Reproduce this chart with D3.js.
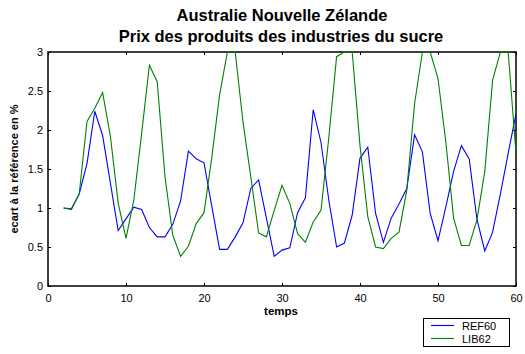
<!DOCTYPE html>
<html>
<head>
<meta charset="utf-8">
<script src="https://cdn.jsdelivr.net/npm/d3@7"></script>
<style>
  html, body { margin: 0; padding: 0; background: #fff; }
  svg { display: block; font-family: "Liberation Sans", Arial, sans-serif; }
</style>
</head>
<body>
<svg id="chart" width="525" height="354"></svg>
<script>
const titleLines = ["Australie Nouvelle Zélande", "Prix des produits des industries du sucre"];
const xLabel = "temps";
const yLabel = "ecart à la référence en %";
const seriesNames = ["REF60", "LIB62"];
const seriesColors = ["#0000ff", "#008000"];
const xTicks = [0, 10, 20, 30, 40, 50, 60];
const yTicks = [0, 0.5, 1, 1.5, 2, 2.5, 3];
const yTickLabels = ["0", "0.5", "1", "1.5", "2", "2.5", "3"];
const temps = [2,3,4,5,6,7,8,9,10,11,12,13,14,15,16,17,18,19,20,21,22,23,24,25,26,27,28,29,30,31,32,33,34,35,36,37,38,39,40,41,42,43,44,45,46,47,48,49,50,51,52,53,54,55,56,57,58,59,60];
const ref60 = [1.00,0.99,1.18,1.57,2.24,1.93,1.32,0.71,0.86,1.01,0.98,0.75,0.63,0.63,0.79,1.09,1.73,1.63,1.58,1.02,0.47,0.47,0.63,0.81,1.25,1.36,0.87,0.38,0.46,0.49,0.94,1.13,2.26,1.84,1.10,0.50,0.55,0.91,1.64,1.78,0.93,0.56,0.87,1.05,1.25,1.94,1.72,0.93,0.58,1.01,1.47,1.80,1.63,0.85,0.45,0.69,1.18,1.70,2.21];
const lib62 = [1.00,0.98,1.18,2.11,2.28,2.48,1.92,1.06,0.61,1.10,1.95,2.83,2.62,1.40,0.65,0.38,0.51,0.80,0.94,1.65,2.45,3.00,3.00,2.10,1.40,0.68,0.63,0.97,1.29,1.06,0.67,0.56,0.82,0.97,1.90,2.94,3.00,3.00,1.80,0.89,0.50,0.48,0.61,0.69,1.23,2.34,3.00,3.00,2.66,1.85,0.87,0.52,0.52,0.85,1.47,2.64,3.00,3.00,1.70];

const svg = d3.select("#chart");
const L = 48, R = 516, T = 52, B = 286;
const x = d3.scaleLinear().domain([0, 60]).range([L, R]);
const y = d3.scaleLinear().domain([0, 3]).range([B, T]);

// Title
svg.append("text").attr("x", 282).attr("y", 20.5).attr("text-anchor", "middle")
  .attr("font-size", 16.5).attr("font-weight", "bold").text(titleLines[0]);
svg.append("text").attr("x", 281).attr("y", 42).attr("text-anchor", "middle")
  .attr("font-size", 16.5).attr("font-weight", "bold").text(titleLines[1]);

// Axes with inward ticks on all sides
const tickLen = 3;
const gBottom = svg.append("g").attr("transform", `translate(0,${B})`)
  .call(d3.axisBottom(x).tickValues(xTicks).tickSizeInner(-tickLen).tickSizeOuter(0).tickPadding(8).tickFormat(d3.format("d")));
const gTop = svg.append("g").attr("transform", `translate(0,${T})`)
  .call(d3.axisTop(x).tickValues(xTicks).tickSizeInner(-tickLen).tickSizeOuter(0).tickFormat(""));
const gLeft = svg.append("g").attr("transform", `translate(${L},0)`)
  .call(d3.axisLeft(y).tickValues(yTicks).tickSizeInner(-tickLen).tickSizeOuter(0).tickPadding(5).tickFormat((d, i) => yTickLabels[i]));
const gRight = svg.append("g").attr("transform", `translate(${R},0)`)
  .call(d3.axisRight(y).tickValues(yTicks).tickSizeInner(-tickLen).tickSizeOuter(0).tickFormat(""));
[gBottom, gTop, gLeft, gRight].forEach(g => {
  g.select(".domain").remove();
  g.selectAll("line").attr("stroke", "#000").attr("stroke-width", 1);
  g.selectAll("text").attr("font-size", 11).attr("fill", "#000")
    .attr("font-family", "'Liberation Sans', Arial, sans-serif");
});

// Frame
svg.append("rect").attr("x", L).attr("y", T).attr("width", R - L).attr("height", B - T)
  .attr("fill", "none").attr("stroke", "#000").attr("stroke-width", 1.5);

// Axis labels
svg.append("text").attr("x", 281).attr("y", 314.5).attr("text-anchor", "middle")
  .attr("font-size", 11.5).attr("font-weight", "bold").text(xLabel);
svg.append("text").attr("transform", `translate(18,169) rotate(-90)`).attr("text-anchor", "middle")
  .attr("font-size", 11).attr("font-weight", "bold").text(yLabel);

// Lines
const defs = svg.append("defs");
defs.append("clipPath").attr("id", "plotclip").append("rect")
  .attr("x", L).attr("y", T - 1).attr("width", R - L).attr("height", B - T + 1);
const line = d3.line().x((d, i) => x(temps[i])).y(d => y(d));
const series = [ref60, lib62];
series.forEach((s, k) => {
  svg.append("path").datum(s).attr("d", line).attr("fill", "none")
    .attr("stroke", seriesColors[k]).attr("stroke-width", 1.1)
    .attr("clip-path", "url(#plotclip)");
});

// Legend
const lg = svg.append("g");
lg.append("rect").attr("x", 423.5).attr("y", 318.5).attr("width", 86).attr("height", 28)
  .attr("fill", "#fff").attr("stroke", "#000").attr("stroke-width", 1);
seriesNames.forEach((n, k) => {
  const yy = 325.5 + k * 13;
  lg.append("line").attr("x1", 431).attr("x2", 454).attr("y1", yy).attr("y2", yy)
    .attr("stroke", seriesColors[k]).attr("stroke-width", 1.1);
  lg.append("text").attr("x", 462).attr("y", yy + 4).attr("font-size", 11).text(n);
});
</script>
</body>
</html>
